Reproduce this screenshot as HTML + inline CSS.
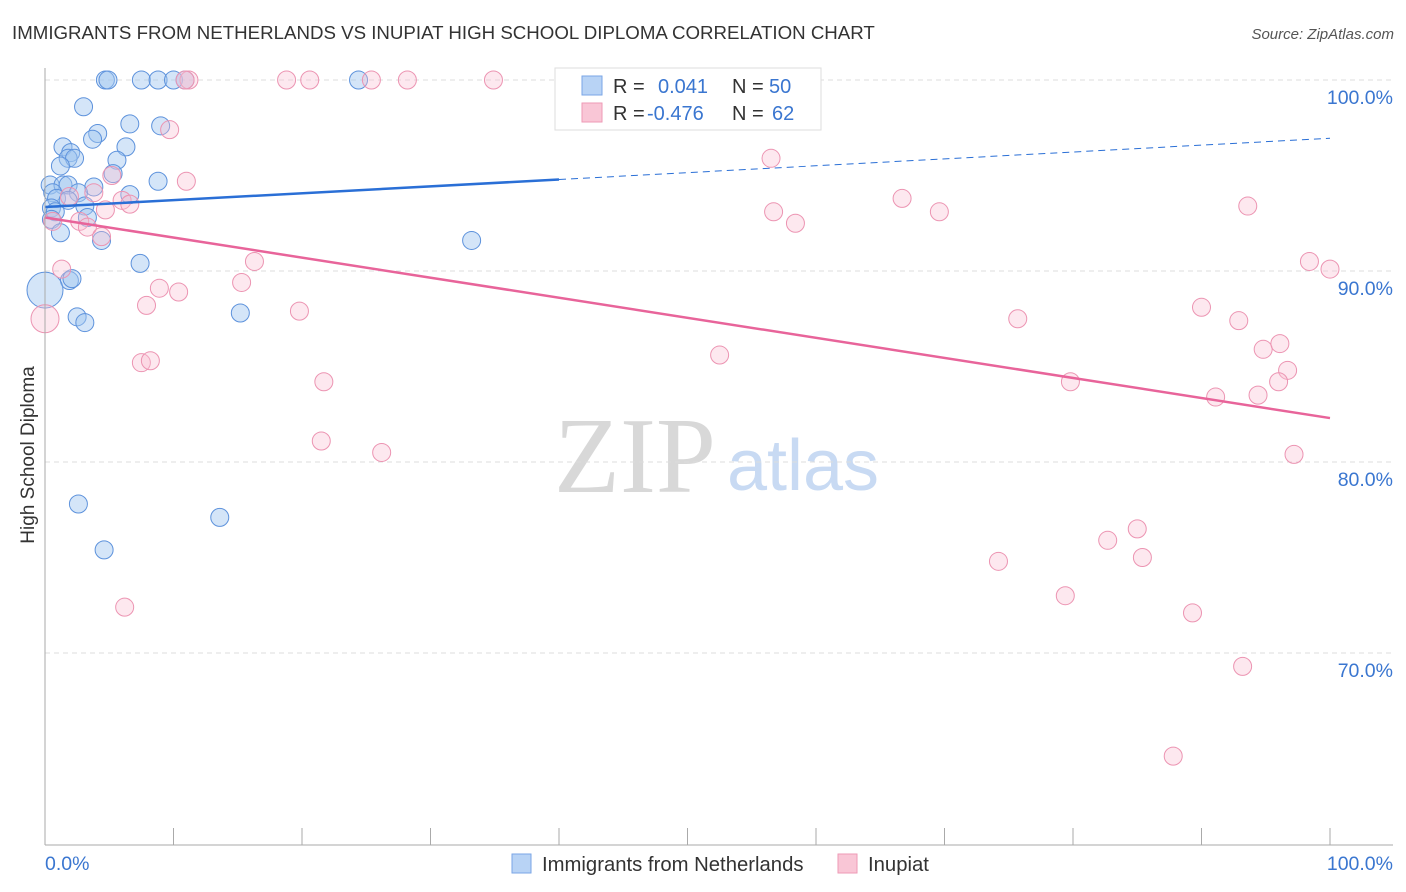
<!DOCTYPE html>
<html><head><meta charset="utf-8"><style>
body{margin:0;background:#fff;font-family:"Liberation Sans",sans-serif;}
#wrap{position:relative;width:1406px;height:892px;overflow:hidden;}
</style></head><body>
<div id="wrap">
<svg id="svg" width="1406" height="892" xmlns="http://www.w3.org/2000/svg">
<text x="12" y="39" font-size="18.7" fill="#333">IMMIGRANTS FROM NETHERLANDS VS INUPIAT HIGH SCHOOL DIPLOMA CORRELATION CHART</text>
<text x="1394" y="39" font-size="15" fill="#555" font-style="italic" text-anchor="end">Source: ZipAtlas.com</text>
<text x="635" y="492" font-size="108" fill="#d8d8d8" font-family="Liberation Serif, serif" text-anchor="middle">ZIP</text>
<text x="803" y="490" font-size="72" fill="#c8daf3" text-anchor="middle">atlas</text>
<text x="34" y="455" font-size="19" fill="#333" text-anchor="middle" transform="rotate(-90 34 455)">High School Diploma</text>
<g id="grid"></g><g id="pts"></g><g id="lines"></g>
<line x1="45" y1="68" x2="45" y2="845" stroke="#aaa"/>
<line x1="45" y1="845" x2="1393" y2="845" stroke="#aaa"/>
<text x="45" y="870" font-size="19.5" fill="#3a76d0">0.0%</text>
<text x="1393" y="870" font-size="19.5" fill="#3a76d0" text-anchor="end">100.0%</text>
<g>
<rect x="555" y="68" width="266" height="62" fill="#fff" stroke="#ddd"/>
<rect x="582" y="76" width="20" height="19" fill="#b8d3f5" stroke="#7aa6e6"/>
<rect x="582" y="103" width="20" height="19" fill="#f9c6d6" stroke="#ee9ab6"/>
<text x="613" y="93" font-size="20" fill="#333">R = </text><text x="658" y="93" font-size="20" fill="#3a76d0">0.041</text>
<text x="732" y="93" font-size="20" fill="#333">N = </text><text x="769" y="93" font-size="20" fill="#3a76d0">50</text>
<text x="613" y="120" font-size="20" fill="#333">R = </text><text x="647" y="120" font-size="20" fill="#3a76d0">-0.476</text>
<text x="732" y="120" font-size="20" fill="#333">N = </text><text x="772" y="120" font-size="20" fill="#3a76d0">62</text>
</g>
<g>
<rect x="512" y="854" width="19" height="19" fill="#b8d3f5" stroke="#7aa6e6"/>
<text x="542" y="871" font-size="20.3" fill="#333">Immigrants from Netherlands</text>
<rect x="838" y="854" width="19" height="19" fill="#f9c6d6" stroke="#ee9ab6"/>
<text x="868" y="871" font-size="20.3" fill="#333">Inupiat</text>
</g>
</svg>
<script>
const yTicks=[100,90,80,70];
const xTicks=[0,10,20,30,40,50,60,70,80,90,100];
const blueX=[4.7,4.9,7.5,8.8,10.0,10.9,24.4,3.0,4.1,6.6,9.0,3.7,1.4,6.3,2.0,1.8,2.3,5.6,1.2,5.3,8.8,0.4,1.4,1.8,3.8,0.6,2.6,6.6,0.9,1.8,3.1,0.5,0.8,3.3,0.5,1.2,4.4,33.2,7.4,1.9,2.1,0,2.5,3.1,15.2,2.6,13.6,4.6];
const blueY=[100,100,100,100,100,100,100,98.6,97.2,97.7,97.6,96.9,96.5,96.5,96.2,95.9,95.9,95.8,95.5,95.1,94.7,94.5,94.5,94.5,94.4,94.1,94.1,94.0,93.8,93.7,93.4,93.3,93.1,92.8,92.7,92.0,91.6,91.6,90.4,89.5,89.6,89.0,87.6,87.3,87.8,77.8,77.1,75.4];
const pinkX=[11.2,10.9,18.8,20.6,25.4,28.2,34.9,47.2,9.7,56.5,11.0,5.2,3.8,6.0,6.6,4.7,1.9,2.7,3.3,0.6,4.4,56.7,58.4,66.7,69.6,93.6,1.3,16.3,15.3,8.9,10.4,7.9,19.8,0,75.7,90.0,92.9,7.5,8.2,21.7,52.5,94.8,96.1,96.7,96.0,79.8,91.1,94.4,98.4,100,21.5,26.2,97.2,74.2,82.7,85.0,85.4,79.4,89.3,6.2,93.2,87.8];
const pinkY=[100,100,100,100,100,100,100,100,97.4,95.9,94.7,95.0,94.1,93.7,93.5,93.2,93.9,92.6,92.3,92.6,91.8,93.1,92.5,93.8,93.1,93.4,90.1,90.5,89.4,89.1,88.9,88.2,87.9,87.5,87.5,88.1,87.4,85.2,85.3,84.2,85.6,85.9,86.2,84.8,84.2,84.2,83.4,83.5,90.5,90.1,81.1,80.5,80.4,74.8,75.9,76.5,75.0,73.0,72.1,72.4,69.3,64.6];
const blueFit=[93.35,0.036];
const pinkFit=[92.8,-0.105];
const NS='http://www.w3.org/2000/svg';
const sx=v=>45+v*12.85, sy=v=>80+(100-v)*19.1;
function mk(t,a,p){const e=document.createElementNS(NS,t);for(const k in a)e.setAttribute(k,a[k]);p.appendChild(e);return e;}
const grid=document.getElementById('grid');
yTicks.forEach(v=>{
 const l=mk('line',{x1:45,x2:1393,y1:sy(v),y2:sy(v),stroke:'#ddd','stroke-dasharray':'5,4'},grid);
 
 
 const t=mk('text',{x:1393,y:sy(v)+24,'font-size':19.5,fill:'#3a76d0','text-anchor':'end'},grid);
 t.textContent=v.toFixed(1)+'%';
 
 
});
xTicks.forEach(v=>{
 const l=mk('line',{x1:sx(v),x2:sx(v),y1:828,y2:845,stroke:'#aaa'},grid);
 
 
});
const pts=document.getElementById('pts');
blueX.forEach((x,i)=>{
 const big=(x===0);
 const c=mk('circle',{cx:sx(x),cy:sy(blueY[i]),r:big?18:9,fill:'rgba(160,198,240,0.45)',stroke:'#5d92dc','stroke-width':1},pts);
 
 
});
pinkX.forEach((x,i)=>{
 const big=(x===0);
 const c=mk('circle',{cx:sx(x),cy:sy(pinkY[i]),r:big?14:9,fill:'rgba(248,188,208,0.35)',stroke:'#ec94b2','stroke-width':1},pts);
 
 
});
const lines=document.getElementById('lines');
const bf=x=>blueFit[0]+blueFit[1]*x, pf=x=>pinkFit[0]+pinkFit[1]*x;
let l1=mk('line',{x1:sx(0),y1:sy(bf(0)),x2:sx(40),y2:sy(bf(40)),stroke:'#2a6fd6','stroke-width':2.5},lines);


let l2=mk('line',{x1:sx(40),y1:sy(bf(40)),x2:sx(100),y2:sy(bf(100)),stroke:'#2a6fd6','stroke-width':1,'stroke-dasharray':'7,5'},lines);


let l3=mk('line',{x1:sx(0),y1:sy(pf(0)),x2:sx(100),y2:sy(pf(100)),stroke:'#e8649a','stroke-width':2.5},lines);


</script>
</div>
</body></html>
